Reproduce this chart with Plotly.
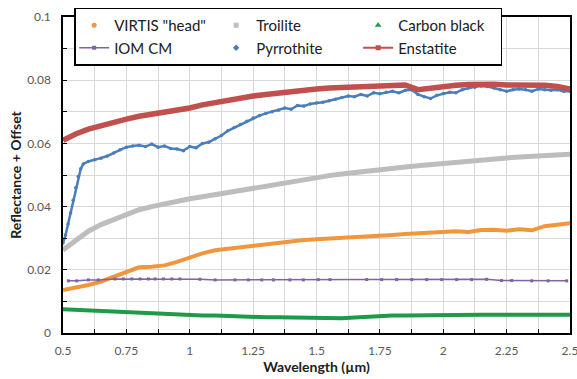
import plotly.graph_objects as go

# ---------------- data ----------------
wl = [0.50, 0.55, 0.60, 0.65, 0.70, 0.75, 0.80, 0.85, 0.90, 0.95,
      1.00, 1.05, 1.10, 1.15, 1.20, 1.25, 1.30, 1.35, 1.40, 1.45,
      1.50, 1.55, 1.60, 1.65, 1.70, 1.75, 1.80, 1.85, 1.90, 1.95,
      2.00, 2.05, 2.10, 2.15, 2.20, 2.25, 2.30, 2.35, 2.40, 2.45, 2.50]

virtis = [0.0136, 0.0143, 0.0152, 0.0163, 0.0178, 0.0195, 0.0208, 0.0210, 0.0214, 0.0225,
          0.0240, 0.0252, 0.0262, 0.0267, 0.0272, 0.0277, 0.0282, 0.0287, 0.0291, 0.0294,
          0.0297, 0.0299, 0.0300, 0.0303, 0.0303, 0.0306, 0.0310, 0.0313, 0.0315, 0.0316,
          0.0318, 0.0322, 0.0320, 0.0326, 0.0327, 0.0324, 0.0328, 0.0325, 0.0338, 0.0342, 0.0347]

troilite = [0.0263, 0.0295, 0.0322, 0.0343, 0.0360, 0.0376, 0.0390, 0.0400, 0.0409, 0.0418,
            0.0425, 0.0431, 0.0438, 0.0444, 0.0451, 0.0458, 0.0465, 0.0473, 0.0480, 0.0486,
            0.0492, 0.0498, 0.0503, 0.0508, 0.0513, 0.0517, 0.0521, 0.0525, 0.0529, 0.0533,
            0.0537, 0.0540, 0.0544, 0.0548, 0.0551, 0.0554, 0.0557, 0.0559, 0.0562, 0.0564, 0.0566]

carbon_black = [0.0075, 0.0073, 0.0070, 0.0068, 0.0066, 0.0064, 0.0062, 0.0060, 0.0058, 0.0057,
                0.0056, 0.0055, 0.0055, 0.0053, 0.0052, 0.0051, 0.0050, 0.0050, 0.0049, 0.0048,
                0.0048, 0.0047, 0.0047, 0.0049, 0.0052, 0.0054, 0.0055, 0.0055, 0.0056, 0.0056,
                0.0057, 0.0057, 0.0057, 0.0058, 0.0058, 0.0058, 0.0058, 0.0059, 0.0061, 0.0058, 0.0058]

enstatite = [0.0610, 0.0630, 0.0645, 0.0657, 0.0668, 0.0677, 0.0686, 0.0692, 0.0698, 0.0703,
             0.0712, 0.0722, 0.0730, 0.0737, 0.0743, 0.0750, 0.0755, 0.0760, 0.0764, 0.0768,
             0.0772, 0.0775, 0.0777, 0.0779, 0.0781, 0.0782, 0.0783, 0.0785, 0.0770, 0.0776,
             0.0782, 0.0784, 0.0786, 0.0788, 0.0787, 0.0785, 0.0785, 0.0785, 0.0784, 0.0780, 0.0772]

iom_wl = [0.521, 0.554, 0.600, 0.639, 0.705, 0.738, 0.771, 0.804, 0.837, 0.863,
          0.896, 0.929, 0.961, 1.040, 1.100, 1.178, 1.231, 1.284, 1.330, 1.395,
          1.448, 1.507, 1.553, 1.698, 1.757, 1.816, 1.876, 1.935, 1.994, 2.053,
          2.112, 2.171, 2.230, 2.270, 2.349, 2.414, 2.487]
iom_cm = [0.0165, 0.0165, 0.0168, 0.0168, 0.0171, 0.0171, 0.0171, 0.0171, 0.0171, 0.0171,
          0.0171, 0.0171, 0.0171, 0.0170, 0.0168, 0.0168, 0.0168, 0.0168, 0.0168, 0.0168,
          0.0168, 0.0169, 0.0169, 0.0169, 0.0169, 0.0169, 0.0169, 0.0169, 0.0169, 0.0169,
          0.0169, 0.0170, 0.0166, 0.0166, 0.0165, 0.0165, 0.0165]

pyr_wl = [0.50, 0.51, 0.52, 0.53, 0.54, 0.55, 0.56, 0.57, 0.58, 0.60,
          0.625, 0.65, 0.675, 0.70, 0.725, 0.75, 0.775, 0.80, 0.825, 0.85,
          0.875, 0.90, 0.925, 0.95, 0.975, 1.00, 1.025, 1.05, 1.075, 1.10,
          1.125, 1.15, 1.175, 1.20, 1.225, 1.25, 1.275, 1.30, 1.325, 1.35,
          1.375, 1.40, 1.425, 1.45, 1.475, 1.50, 1.525, 1.55, 1.575, 1.60,
          1.625, 1.65, 1.675, 1.70, 1.725, 1.75, 1.775, 1.80, 1.825, 1.85,
          1.875, 1.90, 1.925, 1.95, 1.975, 2.00, 2.025, 2.05, 2.075, 2.10,
          2.125, 2.15, 2.175, 2.20, 2.225, 2.25, 2.275, 2.30, 2.325, 2.35,
          2.375, 2.40, 2.425, 2.45, 2.475, 2.50]
pyrrothite = [0.0285, 0.0310, 0.0345, 0.0380, 0.0420, 0.0460, 0.0495, 0.0520, 0.0535, 0.0543,
              0.0548, 0.0553, 0.0560, 0.0570, 0.0580, 0.0588, 0.0592, 0.0594, 0.0590, 0.0598,
              0.0588, 0.0592, 0.0584, 0.0582, 0.0577, 0.0590, 0.0586, 0.0600, 0.0604, 0.0615,
              0.0625, 0.0640, 0.0650, 0.0660, 0.0670, 0.0680, 0.0688, 0.0695, 0.0700, 0.0705,
              0.0712, 0.0708, 0.0720, 0.0718, 0.0725, 0.0728, 0.0730, 0.0735, 0.0740, 0.0745,
              0.0750, 0.0748, 0.0755, 0.0750, 0.0760, 0.0757, 0.0762, 0.0765, 0.0760, 0.0768,
              0.0770, 0.0755, 0.0748, 0.0742, 0.0752, 0.0758, 0.0762, 0.0760, 0.0770, 0.0775,
              0.0778, 0.0782, 0.0780, 0.0775, 0.0770, 0.0765, 0.0770, 0.0772, 0.0770, 0.0765,
              0.0772, 0.0770, 0.0768, 0.0770, 0.0765, 0.0765]

x_ticks = [0.5, 0.75, 1, 1.25, 1.5, 1.75, 2, 2.25, 2.5]
x_tick_labels = ["0.5", "0.75", "1", "1.25", "1.5", "1.75", "2", "2.25", "2.5"]
y_ticks = [0, 0.02, 0.04, 0.06, 0.08, 0.1]
y_tick_labels = ["0", "0.02", "0.04", "0.06", "0.08", "0.1"]

C_ORANGE = "#F0963C"
C_GRAY = "#BDBDBD"
C_GREEN = "#1F9A48"
C_PURPLE = "#8064A2"
C_BLUE = "#4A7EBB"
C_RED = "#C0504D"

fig = go.Figure()

# data traces (drawn as dense thick curves)
fig.add_trace(go.Scatter(x=wl, y=carbon_black, mode="lines", line=dict(color=C_GREEN, width=4),
                         showlegend=False, legendgroup="cb"))
fig.add_trace(go.Scatter(x=wl, y=virtis, mode="lines", line=dict(color=C_ORANGE, width=4),
                         showlegend=False, legendgroup="v"))
fig.add_trace(go.Scatter(x=iom_wl, y=iom_cm, mode="lines+markers", line=dict(color=C_PURPLE, width=1.5),
                         marker=dict(size=3, symbol="square", color=C_PURPLE),
                         showlegend=False, legendgroup="iom"))
fig.add_trace(go.Scatter(x=wl, y=troilite, mode="lines", line=dict(color=C_GRAY, width=5),
                         showlegend=False, legendgroup="t"))
fig.add_trace(go.Scatter(x=pyr_wl, y=pyrrothite, mode="lines+markers", line=dict(color=C_BLUE, width=2.5),
                         marker=dict(size=3.5, color=C_BLUE),
                         showlegend=False, legendgroup="p"))
fig.add_trace(go.Scatter(x=wl, y=enstatite, mode="lines", line=dict(color=C_RED, width=5.5),
                         showlegend=False, legendgroup="e"))

# legend entries (same styling as the reference legend)
fig.add_trace(go.Scatter(x=[None], y=[None], mode="markers", name='VIRTIS "head"',
                         marker=dict(color=C_ORANGE, size=5), legendgroup="v"))
fig.add_trace(go.Scatter(x=[None], y=[None], mode="markers", name="Troilite",
                         marker=dict(color=C_GRAY, size=5, symbol="square"), legendgroup="t"))
fig.add_trace(go.Scatter(x=[None], y=[None], mode="markers", name="Carbon black",
                         marker=dict(color=C_GREEN, size=6, symbol="triangle-up"), legendgroup="cb"))
fig.add_trace(go.Scatter(x=[None], y=[None], mode="lines+markers", name="IOM CM",
                         line=dict(color=C_PURPLE, width=1.5),
                         marker=dict(color=C_PURPLE, size=4, symbol="square"), legendgroup="iom"))
fig.add_trace(go.Scatter(x=[None], y=[None], mode="markers", name="Pyrrothite",
                         marker=dict(color=C_BLUE, size=5, symbol="diamond"), legendgroup="p"))
fig.add_trace(go.Scatter(x=[None], y=[None], mode="lines+markers", name="Enstatite",
                         line=dict(color=C_RED, width=2),
                         marker=dict(color=C_RED, size=5, symbol="square"), legendgroup="e"))

FONT = "Lato, 'Open Sans', Arial, sans-serif"

fig.update_layout(
    width=577, height=379,
    margin=dict(l=63, r=7, t=17, b=46, autoexpand=False),
    paper_bgcolor="white", plot_bgcolor="white",
    font=dict(family=FONT, size=13, color="#404040"),
    showlegend=True,
    legend=dict(orientation="h", x=0.022, y=1.03, xanchor="left", yanchor="top",
                bgcolor="white", bordercolor="black", borderwidth=1.5,
                entrywidth=97, entrywidthmode="pixels",
                font=dict(family=FONT, size=15, color="#202020"),
                itemwidth=30, tracegroupgap=0),
    xaxis=dict(range=[0.4999, 2.5001], tickvals=x_ticks, ticktext=x_tick_labels,
               automargin=False, ticklabeloverflow="allow",
               showline=True, linecolor="black", linewidth=1.5, mirror=True,
               ticks="inside", ticklen=4, tickcolor="black",
               showgrid=True, gridcolor="#D9D9D9", gridwidth=1,
               minor=dict(dtick=0.125, tick0=0.5, showgrid=True, gridcolor="#D9D9D9",
                          ticks="inside", ticklen=4, tickcolor="black"),
               zeroline=False, ticklabelstandoff=6,
               tickfont=dict(size=12, color="#595959"),
               title=dict(text="<b>Wavelength (µm)</b>", font=dict(size=14, color="#202020"),
                          standoff=4)),
    yaxis=dict(range=[0, 0.1], tickvals=y_ticks, ticktext=y_tick_labels,
               automargin=False, ticklabeloverflow="allow",
               showline=True, linecolor="black", linewidth=1.5, mirror=True,
               ticks="inside", ticklen=4, tickcolor="black",
               showgrid=True, gridcolor="#D9D9D9", gridwidth=1,
               minor=dict(dtick=0.01, tick0=0, showgrid=True, gridcolor="#D9D9D9",
                          ticks="inside", ticklen=4, tickcolor="black"),
               zeroline=False, ticklabelstandoff=8,
               tickfont=dict(size=12, color="#595959"),
               title=dict(text="<b>Reflectance + Offset</b>", font=dict(size=14, color="#202020"),
                          standoff=2)),
)

fig.write_html("out.html", config={"displayModeBar": False},
               post_script="document.body.style.margin='0';document.body.style.overflow='hidden';")
